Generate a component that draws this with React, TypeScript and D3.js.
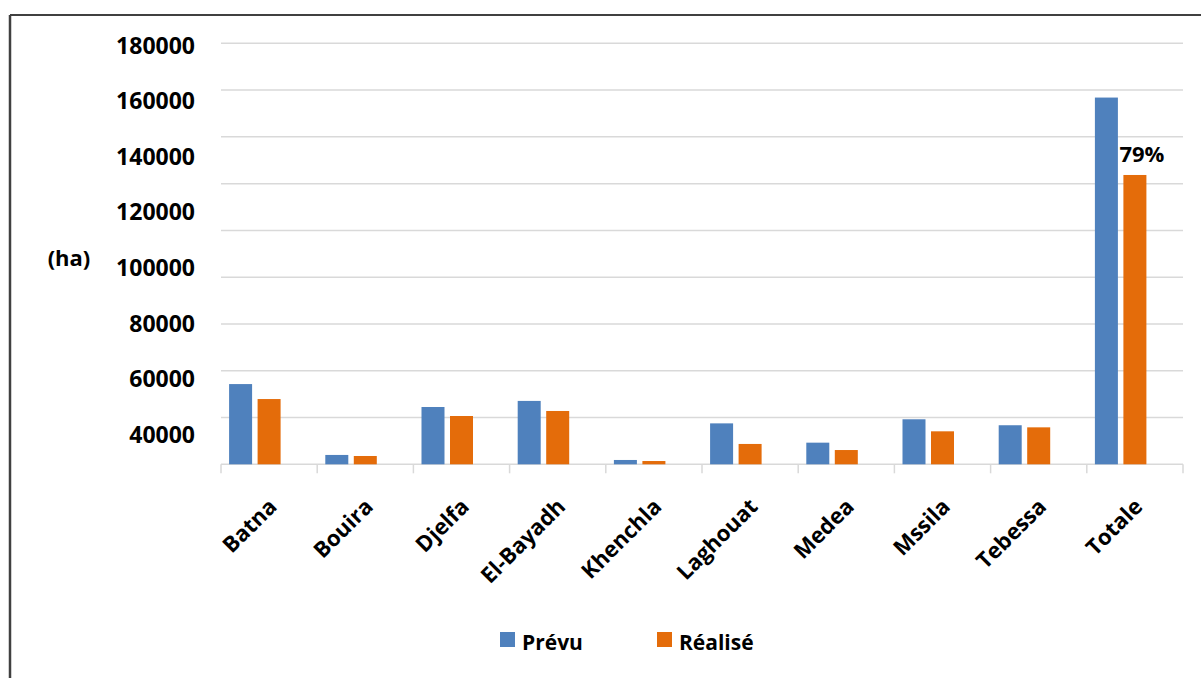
import React from "react";
import * as d3 from "d3";

// Surface (ha) per wilaya: planned vs achieved
const categories = ["Batna", "Bouira", "Djelfa", "El-Bayadh", "Khenchla", "Laghouat", "Medea", "Mssila", "Tebessa", "Totale"];
const prevu = [34300, 4000, 24500, 27100, 1850, 17500, 9250, 19250, 16700, 156800];
const realise = [27900, 3550, 20650, 22800, 1400, 8700, 6100, 14100, 15800, 123700];
const seriesNames = ["Prévu", "Réalisé"];
const seriesColors = ["#4F81BD", "#E46C0A"];
const gridValues = [0, 20000, 40000, 60000, 80000, 100000, 120000, 140000, 160000, 180000];
const tickLabels = [180000, 160000, 140000, 120000, 100000, 80000, 60000, 40000];

const W = 1201;
const H = 678;
const FONT = "'Open Sans', 'Noto Sans', sans-serif";

export default function App() {
  const plotLeft = 221;
  const plotRight = 1183;
  const y = d3.scaleLinear().domain([0, 180000]).range([464.3, 43.3]);
  // tick labels are laid out on their own, evenly spread column
  const yLabel = d3.scaleLinear().domain([40000, 180000]).range([434.5, 45.5]);

  const x0 = d3.scaleBand<string>().domain(categories).range([plotLeft, plotRight]).padding(0);
  // three slots per category; the third one stays empty
  const x1 = d3
    .scaleBand<string>()
    .domain([...seriesNames, "slot"])
    .range([0, x0.bandwidth()])
    .paddingInner(0.193)
    .paddingOuter(0.284);

  const values = [prevu, realise];
  const totalIdx = categories.length - 1;
  const pct = Math.round((realise[totalIdx] / prevu[totalIdx]) * 100);

  const gridColor = "#D9D9D9";

  return (
    <svg
      width={W}
      height={H}
      style={{ position: "absolute", left: 0, top: 0, background: "#fff" }}
      fontFamily={FONT}
    >
      {/* frame */}
      <line x1={10} y1={15} x2={W} y2={15} stroke="#404040" strokeWidth={2} />
      <line x1={10} y1={15} x2={10} y2={H} stroke="#404040" strokeWidth={2.5} />

      {/* gridlines */}
      {gridValues.map((v) => (
        <line
          key={v}
          x1={plotLeft}
          x2={plotRight}
          y1={y(v)}
          y2={y(v)}
          stroke={gridColor}
          strokeWidth={1.5}
        />
      ))}

      {/* category ticks */}
      {[...categories.map((c) => x0(c)!), plotRight].map((xv, i) => (
        <line key={i} x1={xv} x2={xv} y1={y(0)} y2={y(0) + 9} stroke={gridColor} strokeWidth={1.5} />
      ))}

      {/* y tick labels */}
      {tickLabels.map((v) => (
        <text
          key={v}
          x={195}
          y={yLabel(v)}
          dy="0.36em"
          textAnchor="end"
          fontSize={23}
          fontWeight="bold"
          fill="#000"
        >
          {v}
        </text>
      ))}
      <text x={69} y={258} dy="0.36em" textAnchor="middle" fontSize={22} fontWeight="bold">
        (ha)
      </text>

      {/* bars */}
      {categories.map((c, i) => (
        <g key={c} transform={`translate(${x0(c)},0)`}>
          {seriesNames.map((s, k) => (
            <rect
              key={s}
              x={x1(s)}
              y={y(values[k][i])}
              width={x1.bandwidth()}
              height={y(0) - y(values[k][i])}
              fill={seriesColors[k]}
            />
          ))}
        </g>
      ))}

      {/* percentage on the total */}
      <text
        x={x0(categories[totalIdx])! + x1("Réalisé")! + x1.bandwidth() / 2 + 7}
        y={y(realise[totalIdx]) - 13}
        textAnchor="middle"
        fontSize={22}
        fontWeight="bold"
      >
        {pct}%
      </text>

      {/* category labels */}
      {categories.map((c) => {
        const cx = x0(c)! + x0.bandwidth() / 2;
        return (
          <text
            key={c}
            transform={`translate(${cx + 9},${508}) rotate(-45)`}
            textAnchor="end"
            fontSize={22}
            fontWeight="bold"
          >
            {c}
          </text>
        );
      })}

      {/* legend */}
      {seriesNames.map((s, k) => {
        const lx = [500, 657][k];
        return (
          <g key={s}>
            <rect x={lx} y={632} width={15} height={15} fill={seriesColors[k]} />
            <text x={lx + 22} y={650} fontSize={21} fontWeight="bold">
              {s}
            </text>
          </g>
        );
      })}
    </svg>
  );
}
